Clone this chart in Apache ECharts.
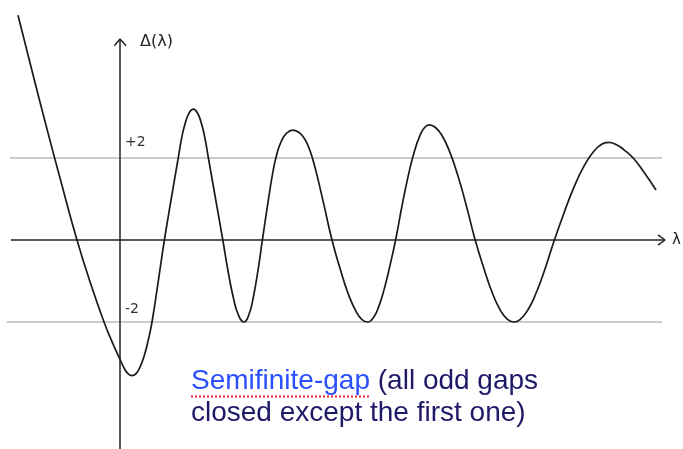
<!DOCTYPE html>
<html>
<head>
<meta charset="utf-8">
<script src="https://cdn.jsdelivr.net/npm/echarts@6/dist/echarts.min.js"></script>
<style>
  html, body { margin: 0; padding: 0; background: #fff; }
  #chart { width: 683px; height: 449px; }
</style>
</head>
<body>
<div id="chart"></div>
<script>
// Δ(λ), λ along the axis, Δ up
const lambdaVals = [-2.55, -2.2, -1.85, -1.45, -1.075, -0.75, -0.4, -0.2, 0, 0.1,
  0.2, 0.3, 0.4, 0.5, 0.6, 0.7, 0.8, 0.95, 1.11, 1.28,
  1.456, 1.54, 1.63, 1.73, 1.83, 1.93, 2.03, 2.12, 2.21, 2.39,
  2.57, 2.7, 2.83, 2.96, 3.1, 3.22, 3.33, 3.45, 3.56, 3.7,
  3.83, 3.93, 4.03, 4.16, 4.32, 4.45, 4.58, 4.7, 4.8, 4.92,
  5.1, 5.3, 5.5, 5.7, 5.9, 6.05, 6.19, 6.33, 6.47, 6.61,
  6.75, 6.89, 7.05, 7.2, 7.35, 7.5, 7.62, 7.73, 7.88, 8.05,
  8.25, 8.45, 8.66, 8.88, 9.1, 9.3, 9.5, 9.68, 9.84, 10.0,
  10.2, 10.4, 10.62, 10.86, 11.1, 11.35, 11.6, 11.85, 12.05, 12.21,
  12.4, 12.6, 12.83, 13.1, 13.4];
const deltaVals = [5.48, 4.13, 2.8, 1.33, 0, -1.02, -2.0, -2.48, -2.91, -3.12,
  -3.26, -3.31, -3.26, -3.1, -2.84, -2.47, -2.0, -1.05, 0, 1.0,
  2.0, 2.48, 2.85, 3.1, 3.19, 3.11, 2.86, 2.5, 2.0, 1.0,
  0, -0.75, -1.39, -1.83, -2.0, -1.83, -1.41, -0.74, 0, 0.92,
  1.7, 2.13, 2.4, 2.6, 2.68, 2.64, 2.52, 2.3, 2.03, 1.6,
  0.85, 0, -0.69, -1.3, -1.74, -1.94, -2.0, -1.9, -1.62, -1.18,
  -0.62, 0, 0.83, 1.54, 2.13, 2.55, 2.75, 2.81, 2.75, 2.55,
  2.13, 1.56, 0.83, 0, -0.7, -1.27, -1.7, -1.93, -2.0, -1.94,
  -1.7, -1.3, -0.72, 0, 0.66, 1.29, 1.8, 2.17, 2.34, 2.38,
  2.33, 2.2, 2.0, 1.65, 1.22];
const bandLevels = [2, -2];
const bandLabels = ['+2', '-2'];

const curve = lambdaVals.map((l, i) => [l, deltaVals[i]]);

const chart = echarts.init(document.getElementById('chart'));

const plain = (name, data, color, width, z) => ({
  name, type: 'line', data, z,
  showSymbol: false, symbol: 'none', silent: true, animation: false,
  lineStyle: { color, width }
});

chart.setOption({
  backgroundColor: '#fff',
  animation: false,
  grid: { left: 0, right: 0, top: 0, bottom: 0 },
  xAxis: { type: 'value', min: -3, max: 14.075, show: false },
  yAxis: { type: 'value', min: -5.098, max: 5.854, show: false },
  series: [
    plain('plus2', [[-2.75, bandLevels[0]], [13.55, bandLevels[0]]], '#b9b9b9', 1.5, 1),
    plain('minus2', [[-2.83, bandLevels[1]], [13.55, bandLevels[1]]], '#b9b9b9', 1.5, 1),
    plain('lamAxis', [[-2.725, 0], [13.625, 0]], '#222', 1.5, 2),
    plain('lamArrow', [[13.45, 0.125], [13.625, 0], [13.45, -0.125]], '#222', 1.5, 2),
    plain('deltaAxis', [[0, -5.2], [0, 4.9]], '#222', 1.5, 2),
    plain('deltaArrow', [[-0.14, 4.74], [0, 4.9], [0.15, 4.74]], '#222', 1.5, 2),
    {
      name: 'Δ(λ)', type: 'line', data: curve, smooth: true, z: 3,
      showSymbol: false, symbol: 'none', animation: false,
      lineStyle: { color: '#1a1a1a', width: 1.7 }
    }
  ],
  graphic: [
    { type: 'text', x: 125, y: 142, style: { text: bandLabels[0], fontSize: 14, fontFamily: 'DejaVu Sans', fill: '#333', verticalAlign: 'middle' } },
    { type: 'text', x: 125, y: 309, style: { text: bandLabels[1], fontSize: 14, fontFamily: 'DejaVu Sans', fill: '#333', verticalAlign: 'middle' } },
    { type: 'text', x: 140, y: 42, style: { text: 'Δ(λ)', fontSize: 16, fontFamily: 'DejaVu Sans', fill: '#222', verticalAlign: 'middle' } },
    { type: 'text', x: 672, y: 240, style: { text: 'λ', fontSize: 15, fontFamily: 'DejaVu Sans', fill: '#222', verticalAlign: 'middle' } },
    {
      type: 'text', x: 191, y: 381,
      style: {
        text: '{b|Semifinite-gap} (all odd gaps',
        fontSize: 28, fontFamily: 'Liberation Sans', fill: '#1e1a68', verticalAlign: 'middle',
        rich: { b: { fontSize: 28, fontFamily: 'Liberation Sans', fill: '#2a50ff' } }
      }
    },
    { type: 'text', x: 191, y: 413, style: { text: 'closed except the first one)', fontSize: 28, fontFamily: 'Liberation Sans', fill: '#1e1a68', verticalAlign: 'middle' } },
    { type: 'line', shape: { x1: 191, y1: 396.5, x2: 371, y2: 396.5 }, style: { stroke: '#e8242b', lineWidth: 2, lineDash: [2, 2] } }
  ]
});
</script>
</body>
</html>
